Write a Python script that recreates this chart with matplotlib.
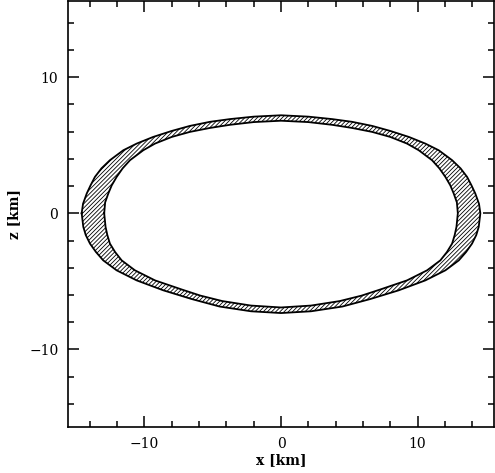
import matplotlib

matplotlib.use("Agg")
import matplotlib.pyplot as plt
from matplotlib.ticker import MultipleLocator

matplotlib.rcParams.update({"font.family": "DejaVu Serif", "font.size": 10,
                            "hatch.linewidth": 0.6})

# outer boundary, upper-left quarter (right side is its mirror)
outer_up_x = [-14.6, -14.5, -14.23, -13.95, -13.63, -13.15, -12.53, -11.55,
              -10.57, -9.36, -8.0, -6.67, -5.2, -3.74, -2.0, 0.0]
outer_up_z = [0.0, 0.7, 1.45, 2.05, 2.67, 3.3, 3.9, 4.63,
              5.12, 5.61, 6.05, 6.42, 6.72, 6.92, 7.1, 7.2]
# outer boundary, lower-left quarter
outer_lo_x = [-14.6, -14.48, -14.3, -13.99, -13.55, -13.02, -12.04, -10.57,
              -8.62, -6.54, -4.5, -2.2, 0.0]
outer_lo_z = [0.0, -1.0, -1.6, -2.23, -2.85, -3.46, -4.19, -4.93,
              -5.66, -6.3, -6.85, -7.2, -7.33]
# inner boundary, upper-left quarter
inner_up_x = [-12.95, -12.88, -12.65, -12.4, -12.04, -11.6, -11.06, -10.09,
              -9.23, -8.0, -6.67, -5.2, -3.74, -2.0, 0.0]
inner_up_z = [0.0, 0.8, 1.45, 2.05, 2.67, 3.3, 3.9, 4.63,
              5.12, 5.61, 5.98, 6.27, 6.5, 6.7, 6.8]
# inner boundary, lower-left quarter
inner_lo_x = [-12.95, -12.85, -12.72, -12.53, -12.15, -11.67, -10.7, -9.23,
              -7.27, -5.9, -4.3, -2.2, 0.0]
inner_lo_z = [0.0, -1.0, -1.6, -2.23, -2.85, -3.46, -4.19, -4.93,
              -5.6, -6.05, -6.45, -6.78, -6.92]


def closed(up_x, up_z, lo_x, lo_z):
    # upper-left -> upper-right -> lower-right -> lower-left
    xs = list(up_x) + [-v for v in reversed(up_x[:-1])]
    zs = list(up_z) + list(reversed(up_z[:-1]))
    xs += [-v for v in lo_x[1:]] + list(reversed(lo_x[:-1]))
    zs += list(lo_z[1:]) + list(reversed(lo_z[:-1]))
    return xs, zs


ox, oz = closed(outer_up_x, outer_up_z, outer_lo_x, outer_lo_z)
ix, iz = closed(inner_up_x, inner_up_z, inner_lo_x, inner_lo_z)

fig = plt.figure(figsize=(4.95, 4.73), dpi=100)
ax = fig.add_axes([0.1374, 0.0973, 0.8606, 0.9007])

ax.fill(ox, oz, facecolor="white", edgecolor="black", hatch="////////", lw=0)
ax.fill(ix, iz, facecolor="white", edgecolor="none", lw=0)
ax.plot(ox, oz, color="black", lw=1.3, solid_joinstyle="round")
ax.plot(ix, iz, color="black", lw=1.3, solid_joinstyle="round")

ax.set_xlim(-15.6, 15.6)
ax.set_ylim(-15.7, 15.6)
ax.xaxis.set_major_locator(MultipleLocator(10))
ax.xaxis.set_minor_locator(MultipleLocator(2))
ax.yaxis.set_major_locator(MultipleLocator(10))
ax.yaxis.set_minor_locator(MultipleLocator(2))
ax.tick_params(which="both", direction="in", top=True, right=True, width=1.1)
ax.tick_params(which="major", length=8, pad=7)
ax.tick_params(which="minor", length=4.5)
for s in ax.spines.values():
    s.set_linewidth(1.2)

ax.set_xlabel("x [km]", fontweight="bold", labelpad=2)
ax.set_ylabel("z [km]", fontweight="bold", labelpad=6)

plt.savefig("out.png", dpi=100)
plt.close()
